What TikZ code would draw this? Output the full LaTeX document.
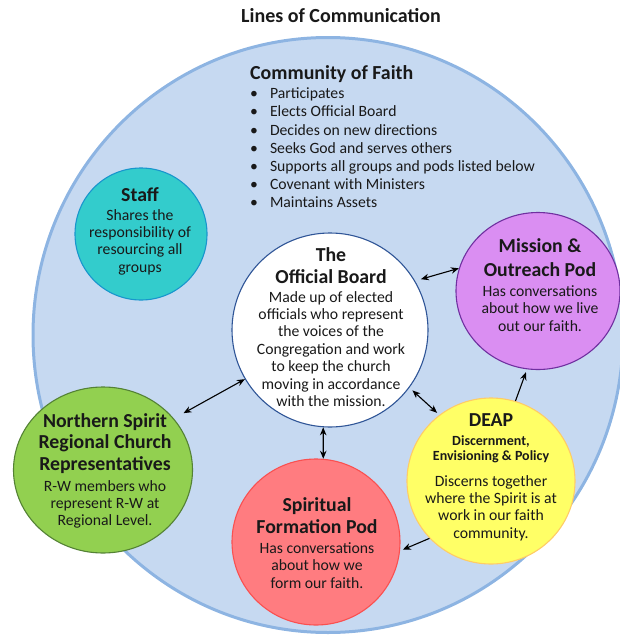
\documentclass[tikz,border=0pt]{standalone}
\usepackage{fontspec}
\setmainfont{Carlito}
\usetikzlibrary{positioning,shapes.geometric,arrows.meta}

\definecolor{cofFill}{RGB}{198,217,241}
\definecolor{cofLine}{RGB}{141,180,226}
\definecolor{staffFill}{RGB}{51,204,204}
\definecolor{staffLine}{RGB}{24,150,205}
\definecolor{boardLine}{RGB}{47,85,151}
\definecolor{missionFill}{RGB}{218,142,242}
\definecolor{missionLine}{RGB}{112,48,160}
\definecolor{deapFill}{RGB}{255,255,102}
\definecolor{deapLine}{RGB}{255,204,102}
\definecolor{spiritFill}{RGB}{255,124,128}
\definecolor{spiritLine}{RGB}{250,80,80}
\definecolor{northFill}{RGB}{146,208,80}
\definecolor{northLine}{RGB}{84,130,53}
\definecolor{ink}{RGB}{25,25,25}

\newcommand{\hd}{\bfseries\fontsize{19.8}{17.4}\selectfont}
\newcommand{\subhd}{\bfseries\fontsize{14}{17.4}\selectfont}
\newcommand{\podfont}{\fontsize{15.7}{17.4}\selectfont\lineskiplimit=-30pt\relax}

\begin{document}
\begin{tikzpicture}[x=1pt,y=-1pt,
  pod/.style={ellipse,inner sep=0pt,line width=1.1pt},
  podtext/.style={align=center,inner sep=0pt,text=ink,font=\podfont},
  oneway/.style={line width=1.1pt,-{Stealth[length=8pt,width=6.5pt]}},
  twoway/.style={line width=1.1pt,{Stealth[length=8pt,width=6.5pt]}-{Stealth[length=8pt,width=6.5pt]}}]

\useasboundingbox (0,0) rectangle (620,635);

% outer circle
\node[pod,fill=cofFill,draw=cofLine,line width=3pt,minimum width=590pt,minimum height=595pt] (cof) at (328,335) {};

\node[font=\bfseries\fontsize{20}{22}\selectfont,text=ink] (title) at (341,16) {Lines of Communication};

\node[anchor=west,inner sep=0pt,font=\bfseries\fontsize{19.9}{22}\selectfont,text=ink] (cofhead) at (250,74) {Community of Faith};
\node[inner sep=0pt,font=\fontsize{15.7}{18.2}\selectfont,text=ink,
      below=3pt of cofhead.south west,anchor=north west] (coflist) {%
  \begin{tabular}{@{}l@{\hspace{12pt}}l@{}}
  \textbullet & Participates\\
  \textbullet & Elects Official Board\\
  \textbullet & Decides on new directions\\
  \textbullet & Seeks God and serves others\\
  \textbullet & Supports all groups and pods listed below\\
  \textbullet & Covenant with Ministers\\
  \textbullet & Maintains Assets
  \end{tabular}};

% circles
\node[pod,fill=staffFill,draw=staffLine,minimum width=132pt,minimum height=132pt] (staff) at (141,234) {};
\node[pod,fill=white,draw=boardLine,minimum width=196pt,minimum height=194pt] (board) at (330,330) {};
\node[pod,fill=missionFill,draw=missionLine,minimum width=164pt,minimum height=157pt] (mission) at (538,291) {};
\node[pod,fill=deapFill,draw=deapLine,minimum width=168pt,minimum height=166pt] (deap) at (491,481) {};
\node[pod,fill=spiritFill,draw=spiritLine,minimum width=168pt,minimum height=166pt] (spirit) at (316,542) {};
\node[pod,fill=northFill,draw=northLine,minimum width=179pt,minimum height=166pt] (north) at (103,470) {};

% texts
\node[podtext] (stafftext) at (140,231) {{\hd Staff}\\[1.6pt]
  Shares the\\ responsibility of\\ resourcing all\\ groups};
\node[podtext] (boardtext) at (331,327) {{\hd The}\\[4.6pt]{\hd Official Board}\\[1.6pt]
  Made up of elected\\ officials who represent\\ the voices of the\\ Congregation and work\\
  to keep the church\\ moving in accordance\\ with the mission.};
\node[podtext] (missiontext) at (540,285) {{\hd Mission \&}\\[6.6pt]{\hd Outreach Pod}\\[2.6pt]
  Has conversations\\ about how we live\\ out our faith.};
\node[podtext] (deaptext) at (491,477) {{\hd DEAP}\\[1.6pt]{\subhd Discernment,}\\[-2.4pt]{\subhd Envisioning \& Policy}\\[8.6pt]
  Discerns together\\ where the Spirit is at\\ work in our faith\\ community.};
\node[podtext] (spirittext) at (317,543) {{\hd Spiritual}\\[4.6pt]{\hd Formation Pod}\\[2.6pt]
  Has conversations\\ about how we\\ form our faith.};
\node[podtext] (northtext) at (105,471) {{\hd Northern Spirit}\\[4pt]{\hd Regional Church}\\[4pt]{\hd Representatives}\\[3.6pt]
  R-W members who\\ represent R-W at\\ Regional Level.};

% lines of communication
\draw[twoway,shorten <=6pt] (board.30) -- (mission.164);
\draw[twoway,shorten <=11pt] (north.36) -- (board.210);
\draw[twoway] (board.266) -- (spirit.85);
\draw[twoway,shorten <=4pt,shorten >=3pt] (board.324) -- (deap.128);
\draw[oneway,shorten >=3pt] (deap.73) -- (mission.262);
\draw[oneway,shorten >=3pt] (deap.223) -- (spirit.354);

\end{tikzpicture}
\end{document}
